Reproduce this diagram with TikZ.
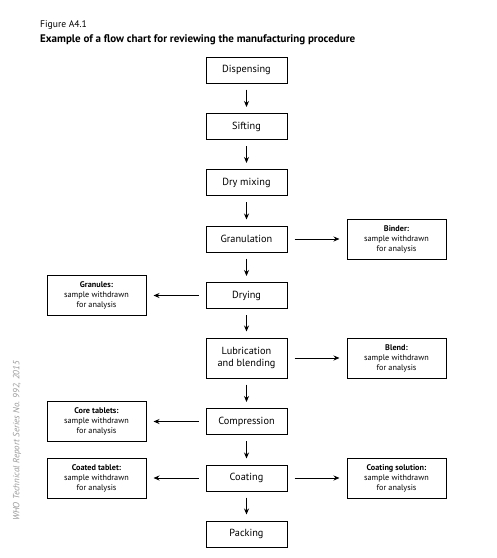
\documentclass[tikz,border=0pt]{standalone}
\usepackage{fontspec}
\setmainfont{PT Sans}
\usetikzlibrary{arrows.meta}

\begin{document}
\begin{tikzpicture}[x=1pt,y=1pt,yscale=-1,xscale=1,
    procbox/.style={draw, line width=1pt, minimum width=81pt, minimum height=26pt, inner sep=1pt, align=center, font=\fontsize{10.3}{12}\selectfont},
    samplebox/.style={draw, line width=1pt, minimum width=99pt, minimum height=40pt, inner sep=1pt, align=center, font=\fontsize{8.2}{10}\selectfont},
    flowarrow/.style={line width=0.9pt, -{Stealth[length=6pt,width=5pt]}, shorten >=6pt, shorten <=6pt},
    sidearrow/.style={line width=0.9pt, -{Stealth[length=6pt,width=5pt]}, shorten >=7pt, shorten <=7pt}]
    \useasboundingbox (0,0) rectangle (497,558);

    % Title
    \node (fig) [anchor=base west, inner sep=0pt, font=\fontsize{9.6}{10}\selectfont] at (40,27) {Figure A4.1};
    \node (title) [anchor=base west, inner sep=0pt, font=\bfseries\fontsize{11}{12}\selectfont] at (40,42) {Example of a flow chart for reviewing the manufacturing procedure};
    % Side note
    \node (series) [rotate=90, inner sep=0pt, text=black!40, font=\itshape\fontsize{9}{10}\selectfont] at (17,441) {WHO Technical Report Series No. 992, 2015};

    % Main steps
    \node (disp) [procbox] at (246.5,70) {Dispensing};
    \node (sift) [procbox] at (246.5,126.5) {Sifting};
    \node (mix) [procbox] at (246.5,182.5) {Dry mixing};
    \node (gran) [procbox] at (246.5,239) {Granulation};
    \node (dry) [procbox] at (246.5,295.5) {Drying};
    \node (lub) [procbox, minimum height=40pt] at (246.5,358) {Lubrication\\and blending};
    \node (comp) [procbox] at (246.5,421.5) {Compression};
    \node (coat) [procbox] at (246.5,478) {Coating};
    \node (pack) [procbox] at (246.5,534) {Packing};

    % Samples
    \node (binder) [samplebox] at (396.5,239) {\textbf{Binder:}\\sample withdrawn\\for analysis};
    \node (granules) [samplebox] at (96.5,295.5) {\textbf{Granules:}\\sample withdrawn\\for analysis};
    \node (blend) [samplebox] at (396.5,358) {\textbf{Blend:}\\sample withdrawn\\for analysis};
    \node (core) [samplebox] at (96.5,421.5) {\textbf{Core tablets:}\\sample withdrawn\\for analysis};
    \node (coated) [samplebox] at (96.5,478) {\textbf{Coated tablet:}\\sample withdrawn\\for analysis};
    \node (solution) [samplebox] at (396.5,478) {\textbf{Coating solution:}\\sample withdrawn\\for analysis};

    % Arrows
    \draw [flowarrow] (disp) -- (sift);
    \draw [flowarrow] (sift) -- (mix);
    \draw [flowarrow] (mix) -- (gran);
    \draw [flowarrow] (gran) -- (dry);
    \draw [flowarrow] (dry) -- (lub);
    \draw [flowarrow] (lub) -- (comp);
    \draw [flowarrow] (comp) -- (coat);
    \draw [flowarrow] (coat) -- (pack);
    \draw [sidearrow] (gran) -- (binder);
    \draw [sidearrow] (dry) -- (granules);
    \draw [sidearrow] (lub) -- (blend);
    \draw [sidearrow] (comp) -- (core);
    \draw [sidearrow] (coat) -- (coated);
    \draw [sidearrow] (coat) -- (solution);

\end{tikzpicture}
\end{document}
